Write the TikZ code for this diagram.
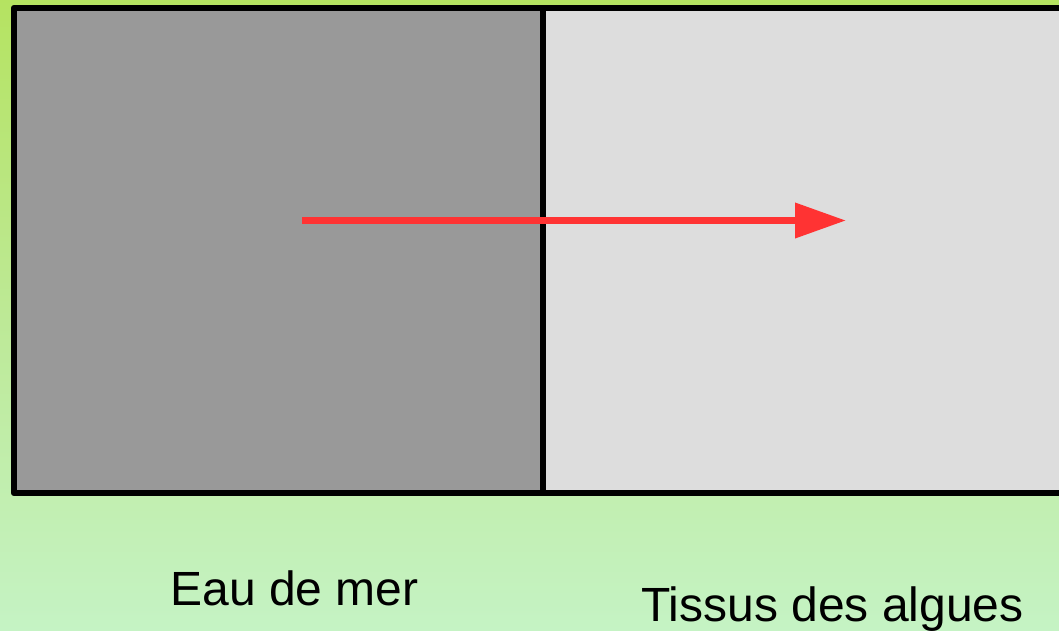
\documentclass[tikz,border=0pt]{standalone}
\usepackage{fontspec}
\setmainfont{Liberation Sans}
\usetikzlibrary{arrows.meta}
\definecolor{bgtop}{RGB}{181,227,97}
\definecolor{bgmid}{RGB}{189,233,150}
\definecolor{bgbot}{RGB}{197,243,196}
\definecolor{water}{RGB}{153,153,153}
\definecolor{tissue}{RGB}{221,221,221}
\definecolor{arrowred}{RGB}{255,51,51}
\tikzset{
  panel/.style={line width=6.5pt, draw=black, line join=round},
  label/.style={font=\fontsize{48}{58}\selectfont, anchor=base, inner sep=0pt},
  flow/.style={line width=7pt, draw=arrowred, -{Triangle[length=51pt,width=34pt]}}
}
\begin{document}
\begin{tikzpicture}[x=1pt,y=-1pt]
\useasboundingbox (0,0) rectangle (1059,630);
\shade[top color=bgtop, bottom color=bgbot, middle color=bgmid] (0,0) rectangle (1059,630);
\begin{scope}
\clip (0,0) rectangle (1059,630);
\fill[water] (14,8) rectangle (543,493);
\fill[tissue] (543,8) rectangle (1075,493);
\draw[panel] (1075,8) -- (14,8) -- (14,493) -- (1075,493);
\draw[panel] (543,8) -- (543,493);
\end{scope}
\coordinate (src) at (302,220.5);
\coordinate (dst) at (846,220.5);
\draw[flow] (src) -- (dst);
\node[label] (eau) at (294.5,605) {Eau de mer};
\node[label] (tissus) at (832.5,621) {Tissus des algues};
\end{tikzpicture}
\end{document}
